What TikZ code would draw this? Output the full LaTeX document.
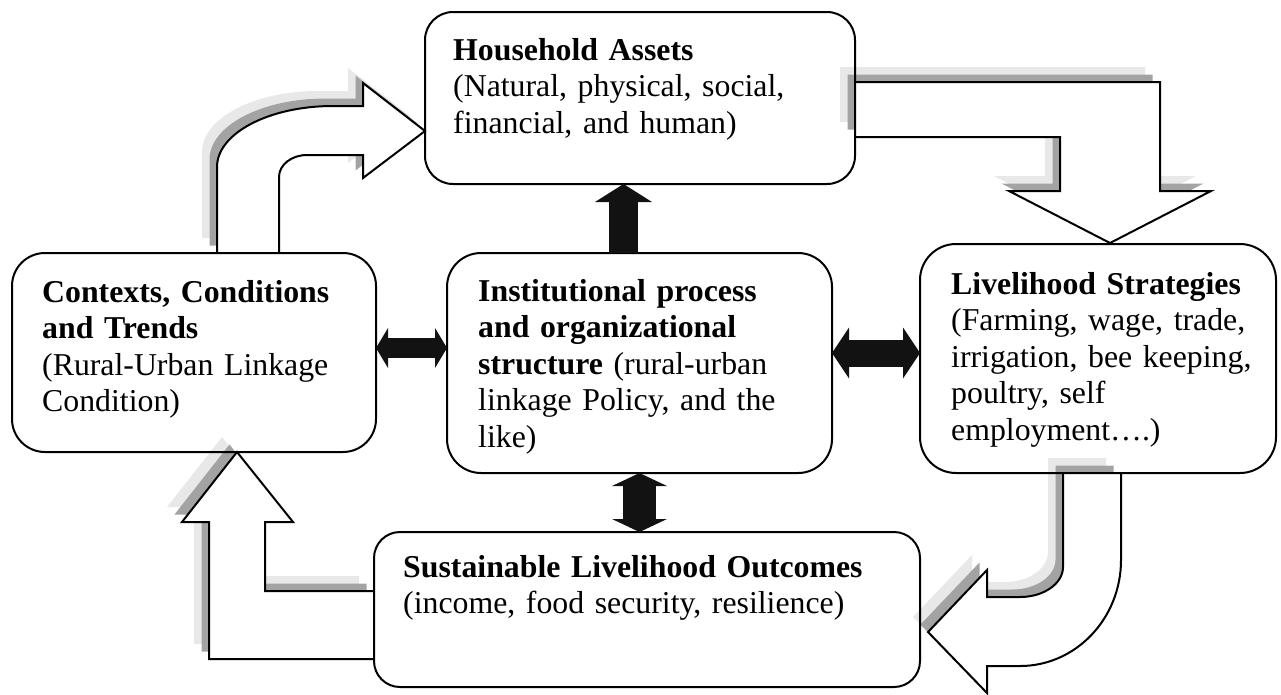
\documentclass[tikz,border=0pt]{standalone}
\usepackage{fontspec}
\setmainfont{Liberation Serif}
\usetikzlibrary{arrows.meta}
\definecolor{shadowdark}{gray}{0.64}
\definecolor{shadowlight}{gray}{0.91}
\tikzset{
  stagebox/.style={rectangle, draw=black, line width=2pt, fill=none,
    inner sep=0pt, outer sep=0pt},
  stagetext/.style={anchor=base west, inner sep=0pt, align=left,
    text width=540pt, font=\fontsize{31.8pt}{36.6pt}\selectfont},
  blockline/.style={draw=black, line width=2pt, line join=miter},
  solidlink/.style={draw=black!93, line cap=butt},
}
% hollow block arrow with a two-step drop shadow towards the upper left
\newcommand\blockarrow[1]{%
  \fill[shadowlight, shift={(-15,-15)}] #1;
  \fill[shadowdark, shift={(-7.5,-7.5)}] #1;
  \fill[white] #1;
  \draw[blockline] #1;}
\begin{document}
\begin{tikzpicture}[x=1pt, y=-1pt]
\useasboundingbox (0,0) rectangle (1281,694);

% ---- hollow flow arrows ----
% contexts -> household assets (bent up, then right)
\blockarrow{(217,253) -- (217,167) .. controls (217,133.3) and (269,106) .. (333,106)
  -- (363,106) -- (363,83) -- (425,131) -- (363,178) -- (363,155) -- (307,155)
  .. controls (291.5,155) and (279,164.9) .. (279,177) -- (279,253)}
% household assets -> livelihood strategies (right, then down)
\blockarrow{(855,82) -- (1160,82) -- (1160,191) -- (1211,191) -- (1110,243)
  -- (1009,191) -- (1060,191) -- (1060,137) -- (855,137)}
% livelihood strategies -> outcomes (down, then curving left)
\blockarrow{(1121,473) -- (1121,560) .. controls (1121,618.5) and (1075.8,666) .. (1020,666)
  -- (987,666) -- (987,693) -- (928,632) -- (987,570) -- (987,597) -- (1020,597)
  .. controls (1043.7,597) and (1063,583.6) .. (1063,567) -- (1063,473)}
% outcomes -> contexts (left, then up)
\blockarrow{(374,659) -- (209,659) -- (209,522) -- (182,522) -- (237,452)
  -- (293,522) -- (265,522) -- (265,591) -- (374,591)}

% ---- stage boxes ----
\node[stagebox, rounded corners=28pt, minimum width=430pt, minimum height=172pt]
  (ha) at (640,98) {};
\node[stagebox, rounded corners=33pt, minimum width=364pt, minimum height=199pt]
  (ctx) at (194,352.5) {};
\node[stagebox, rounded corners=34pt, minimum width=385pt, minimum height=220pt]
  (inst) at (639.5,363) {};
\node[stagebox, rounded corners=36pt, minimum width=356pt, minimum height=229pt]
  (ls) at (1098,358.5) {};
\node[stagebox, rounded corners=26pt, minimum width=546pt, minimum height=155pt]
  (slo) at (647,609.5) {};

% ---- solid two-way links ----
\coordinate (colA) at (623.5,0);
\coordinate (lvlA) at (0,348);
\coordinate (lvlB) at (0,353);
\draw[solidlink, line width=29pt,
  arrows={-Triangle[length=18pt,width=57pt,line width=0pt]}]
  (colA |- inst.north) -- (colA |- ha.south);
\draw[solidlink, line width=20pt,
  arrows={Triangle[length=12pt,width=40pt,line width=0pt]-Triangle[length=12pt,width=40pt,line width=0pt]}]
  (ctx.east |- lvlA) -- (inst.west |- lvlA);
\draw[solidlink, line width=27pt,
  arrows={Triangle[length=17pt,width=51pt,line width=0pt]-Triangle[length=17pt,width=51pt,line width=0pt]}]
  (inst.east |- lvlB) -- (ls.west |- lvlB);
\draw[solidlink, line width=33pt,
  arrows={Triangle[length=13pt,width=55pt,line width=0pt]-Triangle[length=13pt,width=55pt,line width=0pt]}]
  (inst.south) -- (inst.south |- slo.north);

% ---- box texts ----
\node[stagetext] (ha-text) at (453,60)
  {\textbf{Household Assets}\\(Natural, physical, social,\\financial, and human)};
\node[stagetext] (ctx-text) at (42,302)
  {\textbf{Contexts, Conditions}\\\textbf{and Trends}\\(Rural-Urban Linkage\\Condition)};
\node[stagetext] (inst-text) at (478,301)
  {\textbf{Institutional process}\\\textbf{and organizational}\\\textbf{structure} (rural-urban\\linkage Policy, and the\\like)};
\node[stagetext] (ls-text) at (951,294)
  {\textbf{Livelihood Strategies}\\(Farming, wage, trade,\\irrigation, bee keeping,\\poultry, self\\employment….)};
\node[stagetext] (slo-text) at (403,577)
  {\textbf{Sustainable Livelihood Outcomes}\\(income, food security, resilience)};
\end{tikzpicture}
\end{document}
